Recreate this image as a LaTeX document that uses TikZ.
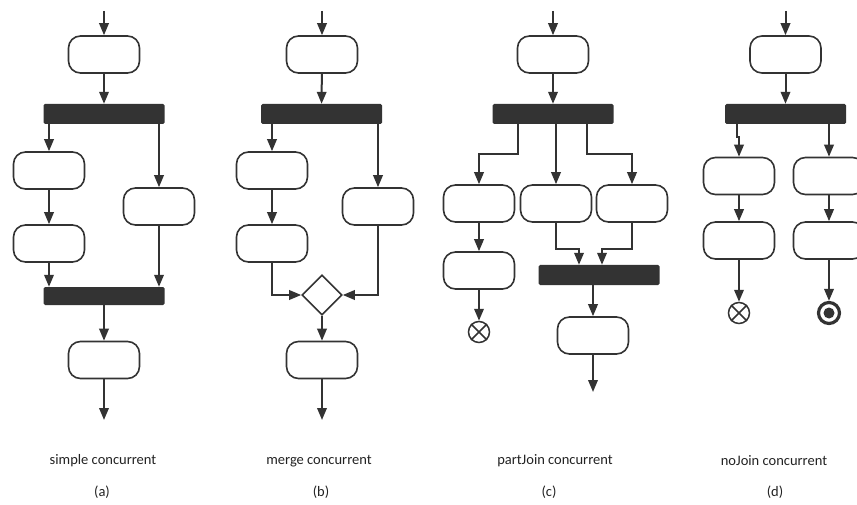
\documentclass[tikz,border=0pt]{standalone}
\usepackage{fontspec}
\setmainfont{Carlito}
\usetikzlibrary{arrows.meta,shapes.geometric,positioning}
\definecolor{ink}{HTML}{333333}
\definecolor{txt}{HTML}{222222}
\tikzset{
  act/.style={draw=ink, line width=1.6pt, rounded corners=12pt, fill=white,
    minimum width=71pt, minimum height=37pt, inner sep=0pt},
  bar/.style={fill=ink, rounded corners=1.5pt, minimum width=121pt,
    minimum height=20pt, inner sep=0pt},
  flow/.style={draw=ink, line width=2pt, -{Triangle[length=12pt,width=9.5pt]}},
  mergenode/.style={draw=ink, line width=1.6pt, diamond, aspect=1, fill=white,
    minimum width=40pt, minimum height=40pt, inner sep=0pt},
  flowfinal/.style={draw=ink, line width=1.5pt, circle, minimum size=21pt,
    inner sep=0pt, fill=white},
  actfinal/.style={draw=ink, line width=3.2pt, circle, minimum size=21pt,
    inner sep=0pt, fill=white},
  caption/.style={text=txt, font=\fontsize{14.5}{16}\selectfont, inner sep=0pt}
}
\begin{document}
\begin{tikzpicture}[x=1pt, y=-1pt]
\useasboundingbox (0,0) rectangle (857,505);

% ---------- (a) simple concurrent ----------
\coordinate (aS) at (104,11);
\node[act] (a0) at (104,54.5) {};
\node[bar] (aF) at (104,114) {};
\node[act] (a1) at (49,170.5) {};
\node[act] (a2) at (49,243.5) {};
\node[act] (a3) at (159,206.5) {};
\node[bar, minimum height=18pt] (aJ) at (104,296) {};
\node[act] (a4) at (104,360) {};
\coordinate (aE) at (104,420);
\draw[flow] (aS) -- (a0);
\draw[flow] (a0) -- (aF);
\draw[flow] (aF.south -| a1.north) -- (a1.north);
\draw[flow] (aF.south -| a3.north) -- (a3.north);
\draw[flow] (a1) -- (a2);
\draw[flow] (a2.south) -- (a2.south |- aJ.north);
\draw[flow] (a3.south) -- (a3.south |- aJ.north);
\draw[flow] (aJ) -- (a4);
\draw[flow] (a4) -- (aE);

% ---------- (b) merge concurrent ----------
\coordinate (bS) at (322,11);
\node[act] (b0) at (322,54.5) {};
\node[bar] (bF) at (321.5,114) {};
\node[act] (b1) at (272,170.5) {};
\node[act] (b2) at (272,243.5) {};
\node[act] (b3) at (378,206.5) {};
\node[mergenode] (bM) at (322,295) {};
\node[act] (b4) at (322,360) {};
\coordinate (bE) at (322,420);
\draw[flow] (bS) -- (b0);
\draw[flow] (b0) -- (bF);
\draw[flow] (bF.south -| b1.north) -- (b1.north);
\draw[flow] (bF.south -| b3.north) -- (b3.north);
\draw[flow] (b1) -- (b2);
\draw[flow] (b2.south) |- (bM.west);
\draw[flow] (b3.south) |- (bM.east);
\draw[flow] (bM) -- (b4);
\draw[flow] (b4) -- (bE);

% ---------- (c) partJoin concurrent ----------
\coordinate (cS) at (553,11);
\node[act] (c0) at (553,54.5) {};
\node[bar] (cF) at (553,114) {};
\node[act] (c1) at (479,203.5) {};
\node[act] (c2) at (556,203.5) {};
\node[act] (c3) at (632,203.5) {};
\node[act] (c4) at (479,270.5) {};
\node[flowfinal] (cX) at (479,332) {};
\draw[ink, line width=1.5pt] (cX.north west) -- (cX.south east)
  (cX.north east) -- (cX.south west);
\node[bar] (cJ) at (599,275) {};
\node[act] (c5) at (593,335.5) {};
\coordinate (cE) at (593,392);
\draw[flow] (cS) -- (c0);
\draw[flow] (c0) -- (cF);
\draw[flow] ([xshift=-35pt]cF.south) -- ++(0,30) -| (c1.north);
\draw[flow] (cF.south -| c2.north) -- (c2.north);
\draw[flow] ([xshift=34pt]cF.south) -- ++(0,30) -| (c3.north);
\draw[flow] (c1) -- (c4);
\draw[flow] (c4) -- (cX);
\draw[flow] (c2.south) -- ++(0,26) -| ([xshift=-20pt]cJ.north);
\draw[flow] (c3.south) -- ++(0,26) -| ([xshift=3pt]cJ.north);
\draw[flow] (cJ.south -| c5.north) -- (c5.north);
\draw[flow] (c5) -- (cE);

% ---------- (d) noJoin concurrent ----------
\coordinate (dS) at (785.5,11);
\node[act] (d0) at (785.5,54.5) {};
\node[bar] (dF) at (785.5,114) {};
\node[act] (d1) at (739,176) {};
\node[act] (d2) at (829,176) {};
\node[act] (d3) at (739,240.5) {};
\node[act] (d4) at (829,240.5) {};
\node[flowfinal] (dX) at (739,313) {};
\draw[ink, line width=1.5pt] (dX.north west) -- (dX.south east)
  (dX.north east) -- (dX.south west);
\node[actfinal] (dE) at (829,313) {};
\fill[ink] (dE.center) circle (5.5pt);
\draw[flow] (dS) -- (d0);
\draw[flow] (d0) -- (dF);
\draw[flow] ([xshift=-48.5pt]dF.south) -- ++(0,13) -| (d1.north);
\draw[flow] (dF.south -| d2.north) -- (d2.north);
\draw[flow] (d1) -- (d3);
\draw[flow] (d2) -- (d4);
\draw[flow] (d3) -- (dX);
\draw[flow] (d4) -- (dE);

% ---------- captions ----------
\node[caption] (la) at (103,461) {simple concurrent};
\node[caption] (ta) at (102,492) {(a)};
\node[caption] (lb) at (319,461) {merge concurrent};
\node[caption] (tb) at (321,492) {(b)};
\node[caption] (lc) at (555,461) {partJoin concurrent};
\node[caption] (tc) at (549,492) {(c)};
\node[caption] (ld) at (774,461) {noJoin concurrent};
\node[caption] (td) at (775,492) {(d)};
\end{tikzpicture}
\end{document}
